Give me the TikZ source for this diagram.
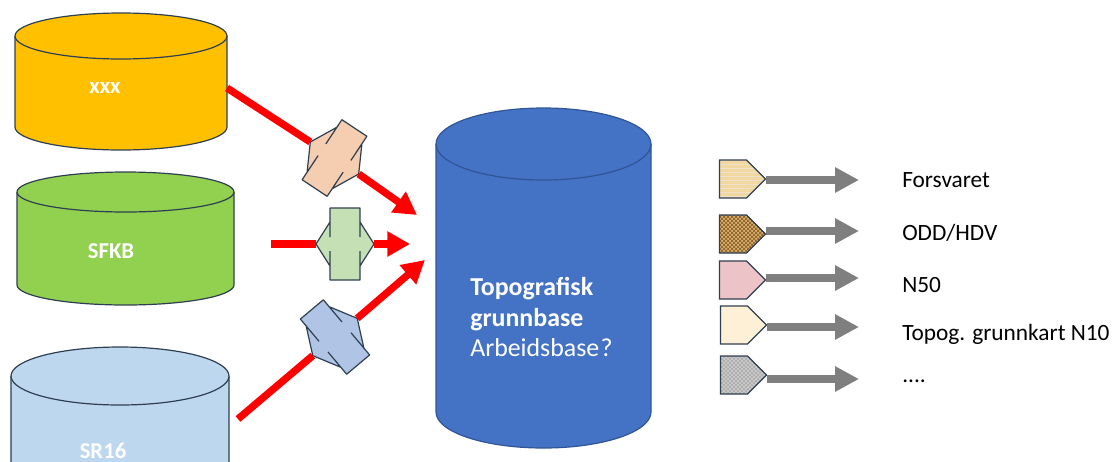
\documentclass[tikz,border=0pt]{standalone}
\usepackage{fontspec}
\setmainfont{Carlito}
\usetikzlibrary{arrows.meta,patterns,shapes.symbols}

\definecolor{edgeblue}{HTML}{2F3F52}
\definecolor{baseedge}{HTML}{2F5597}
\definecolor{xxxfill}{HTML}{FFC000}
\definecolor{sfkbfill}{HTML}{92D050}
\definecolor{srfill}{HTML}{BDD7EE}
\definecolor{baseblue}{HTML}{4472C4}
\definecolor{peachfill}{HTML}{F5CDB0}
\definecolor{greenfill}{HTML}{C5E0B4}
\definecolor{bluefill}{HTML}{B0C4E6}
\definecolor{arrowred}{HTML}{FF0000}
\definecolor{arrowgray}{HTML}{7F7F7F}

\tikzset{
	dbedge/.style={draw=edgeblue, line width=0.9pt},
	dblabel/.style={text=white, inner sep=0pt, font=\fontsize{17}{20}\selectfont\bfseries},
	red line/.style={draw=arrowred, line width=5.5pt},
	red arrow/.style={red line, -{Triangle[length=17pt,width=18pt]}},
	gray arrow/.style={draw=arrowgray, line width=5.5pt, -{Triangle[length=18pt,width=18pt]}},
	tag/.style={signal, signal to=east, draw=edgeblue, line width=0.9pt, inner sep=0pt, minimum width=34.5pt, minimum height=28.5pt},
	outlabel/.style={anchor=west, inner sep=0pt, font=\fontsize{17.5}{21}\selectfont},
	pics/convert/.style 2 args={code={
		\path[fill=#1] (-15,-36) -- (15,-36) -- (15,-#2) -- (29,0) -- (15,#2) -- (15,36) -- (-15,36) -- (-15,#2) -- (-29,0) -- (-15,-#2) -- cycle;
		\draw[dbedge, line join=round]
			(-15,-7) -- (-15,-36) -- (15,-36) -- (15,-7)
			(-15,7) -- (-15,36) -- (15,36) -- (15,7)
			(-15,-#2) -- (-29,0) -- (-15,#2)
			(15,-#2) -- (29,0) -- (15,#2);
		\coordinate (-in) at (-29,0);
		\coordinate (-out) at (29,0);
	}}
}

% name, centre x, top y, x radius, body height, y radius, fill
\newcommand{\dbase}[7]{
	\draw[dbedge, fill=#7]
		(#2-#4,#3+#6) -- ++(0,#5-2*#6) arc (180:0:#4 and #6) -- ++(0,2*#6-#5) ;
	\draw[dbedge, fill=#7] (#2,#3+#6) ellipse (#4 and #6);
	\coordinate (#1) at (#2,#3+0.5*#5);
}

\begin{document}
\begin{tikzpicture}[x=0.75pt, y=-0.75pt]
	\clip (0,0) rectangle (1112,461);

	% source bases
	\dbase{xxx}{121}{13}{106}{137}{23}{xxxfill}
	\dbase{sfkb}{125.5}{172}{108.5}{133}{20}{sfkbfill}
	\dbase{sr}{120}{347}{109}{160}{29}{srfill}

	\node (xxxname) [dblabel] at (105,88) {xxx};
	\node (sfkbname) [dblabel] at (111,251) {SFKB};
	\node (srname) [dblabel] at (103,451) {SR16};

	% main base
	\begin{scope}[dbedge/.append style={draw=baseedge}]
		\dbase{base}{543.5}{108}{107.5}{340}{36}{baseblue}
	\end{scope}
	\node (basename) [anchor=west, inner sep=0pt, align=left, text=white, font=\fontsize{19.4}{23}\selectfont] at (470,317) {\textbf{Topografisk}\\\textbf{grunnbase}\\Arbeidsbase\kern1pt?};

	% converters
	\pic (peach) [rotate=-33.5] at (334.5,158) {convert={peachfill}{27}};
	\pic (green) at (345,244) {convert={greenfill}{22}};
	\pic (blue) [rotate=40] at (335,337) {convert={bluefill}{27}};

	\coordinate (xxxout) at (227,88);
	\coordinate (sfkbout) at (271,244);
	\coordinate (srout) at (238,419);
	\coordinate (basein1) at (417,215);
	\coordinate (basein2) at (410,244);
	\coordinate (basein3) at (425,260);

	\draw [red line] (xxxout) to (peach-in);
	\draw [red arrow] (peach-out) to (basein1);
	\draw [red line] (sfkbout) to (green-in);
	\draw [red arrow] (green-out) to (basein2);
	\draw [red line] (srout) to (blue-in);
	\draw [red arrow] (blue-out) to (basein3);

	% products
	\node (t1) [tag, preaction={fill={rgb,255:red,240;green,216;blue,160}}, pattern=horizontal lines, pattern color=brown!25] at (733,179) {};
	\node (t2) [tag, preaction={fill={rgb,255:red,215;green,175;blue,100}}, pattern=crosshatch, pattern color=brown!70!black] at (733,234) {};
	\node (t3) [tag, fill={rgb,255:red,236;green,196;blue,200}] at (733,280) {};
	\node (t4) [tag, fill={rgb,255:red,253;green,240;blue,214}] at (734,325) {};
	\node (t5) [tag, preaction={fill=black!22}, pattern=crosshatch dots, pattern color=black!60] at (734,375) {};

	\node (l1) [outlabel] at (902,180) {Forsvaret};
	\node (l2) [outlabel] at (902,233) {ODD/HDV};
	\node (l3) [outlabel] at (902,285) {N50};
	\node (l4) [outlabel] at (902,334) {Topog. grunnkart N10};
	\node (l5) [outlabel] at (902,381) {....};

	\coordinate (e1) at (859,180);
	\coordinate (e2) at (859,231);
	\coordinate (e3) at (859,278);
	\coordinate (e4) at (859,327);
	\coordinate (e5) at (859,379);

	\draw [gray arrow] (t1.east |- e1) to (e1);
	\draw [gray arrow] (t2.east |- e2) to (e2);
	\draw [gray arrow] (t3.east |- e3) to (e3);
	\draw [gray arrow] (t4.east |- e4) to (e4);
	\draw [gray arrow] (t5.east |- e5) to (e5);
\end{tikzpicture}
\end{document}
